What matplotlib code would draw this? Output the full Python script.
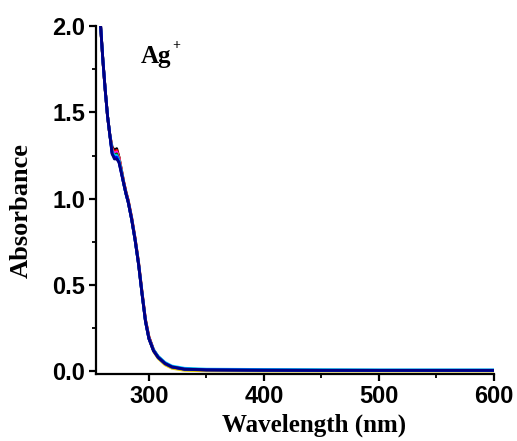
import matplotlib
matplotlib.use("Agg")
import matplotlib.pyplot as plt
from matplotlib.ticker import MultipleLocator

wavelength = [254, 256, 258, 260, 262, 264, 266, 268, 270, 272, 274, 276, 278, 280,
              282, 285, 288, 291, 294, 297, 300, 304, 308, 314, 320, 331, 350,
              400, 450, 500, 550, 600]

abs_black   = [2.60, 2.28, 2.00, 1.80, 1.63, 1.48, 1.37, 1.30, 1.28, 1.29, 1.24, 1.17, 1.10, 1.04,
               0.99, 0.89, 0.77, 0.63, 0.46, 0.30, 0.20, 0.125, 0.085, 0.048, 0.027, 0.014, 0.010,
               0.008, 0.007, 0.006, 0.006, 0.006]
abs_red     = [2.60, 2.28, 2.00, 1.80, 1.63, 1.48, 1.37, 1.29, 1.27, 1.28, 1.24, 1.17, 1.10, 1.04,
               0.99, 0.89, 0.77, 0.63, 0.46, 0.30, 0.20, 0.125, 0.085, 0.048, 0.027, 0.014, 0.010,
               0.008, 0.007, 0.006, 0.006, 0.006]
abs_yellow  = [2.60, 2.28, 2.00, 1.80, 1.63, 1.48, 1.37, 1.28, 1.26, 1.27, 1.23, 1.16, 1.09, 1.03,
               0.98, 0.88, 0.76, 0.62, 0.45, 0.29, 0.19, 0.115, 0.075, 0.038, 0.018, 0.006, 0.003,
               0.002, 0.002, 0.002, 0.002, 0.002]
abs_magenta = [2.60, 2.28, 2.00, 1.80, 1.63, 1.48, 1.37, 1.28, 1.26, 1.27, 1.23, 1.16, 1.09, 1.03,
               0.98, 0.88, 0.76, 0.62, 0.45, 0.29, 0.19, 0.120, 0.080, 0.045, 0.025, 0.012, 0.008,
               0.006, 0.005, 0.005, 0.005, 0.005]
abs_green   = [2.60, 2.28, 2.00, 1.80, 1.63, 1.48, 1.37, 1.27, 1.25, 1.26, 1.22, 1.16, 1.09, 1.03,
               0.98, 0.88, 0.76, 0.62, 0.45, 0.29, 0.19, 0.120, 0.080, 0.045, 0.025, 0.012, 0.008,
               0.006, 0.005, 0.005, 0.005, 0.005]
abs_cyan    = [2.60, 2.28, 2.00, 1.80, 1.63, 1.48, 1.37, 1.27, 1.25, 1.25, 1.22, 1.16, 1.09, 1.03,
               0.98, 0.88, 0.76, 0.62, 0.45, 0.29, 0.19, 0.125, 0.088, 0.052, 0.031, 0.018, 0.013,
               0.011, 0.010, 0.009, 0.009, 0.009]
abs_blue    = [2.60, 2.28, 2.00, 1.80, 1.63, 1.48, 1.37, 1.26, 1.24, 1.24, 1.21, 1.15, 1.09, 1.03,
               0.98, 0.88, 0.76, 0.62, 0.45, 0.29, 0.19, 0.120, 0.082, 0.046, 0.026, 0.013, 0.009,
               0.007, 0.006, 0.006, 0.006, 0.006]
abs_navy    = [2.60, 2.28, 2.00, 1.80, 1.63, 1.48, 1.37, 1.26, 1.23, 1.23, 1.21, 1.15, 1.09, 1.03,
               0.98, 0.88, 0.76, 0.62, 0.45, 0.29, 0.19, 0.120, 0.082, 0.046, 0.026, 0.013, 0.009,
               0.007, 0.006, 0.006, 0.006, 0.006]

series = [
    (abs_black, "black"),
    (abs_red, "red"),
    (abs_yellow, "#e0c800"),
    (abs_magenta, "magenta"),
    (abs_green, "#008000"),
    (abs_cyan, "#00c8ff"),
    (abs_blue, "blue"),
    (abs_navy, "#000080"),
]

x_ticks = [300, 400, 500, 600]
y_ticks = [0.0, 0.5, 1.0, 1.5, 2.0]

fig = plt.figure(figsize=(5.17, 4.41), dpi=100)
ax = fig.add_axes([0.1857, 0.152, 0.7698, 0.789])

for vals, col in series:
    ax.plot(wavelength, vals, color=col, lw=2.0, solid_joinstyle="round")

ax.set_xlim(254, 600)
ax.set_ylim(-0.015, 2.0)
ax.set_xticks(x_ticks)
ax.set_yticks(y_ticks)
ax.set_yticklabels([f"{v:.1f}" for v in y_ticks])
ax.xaxis.set_minor_locator(MultipleLocator(50))
ax.yaxis.set_minor_locator(MultipleLocator(0.25))

for s in ["top", "right"]:
    ax.spines[s].set_visible(False)
for s in ["left", "bottom"]:
    ax.spines[s].set_linewidth(1.6)

ax.tick_params(which="major", direction="out", length=5, width=1.6, pad=3)
ax.tick_params(which="minor", direction="out", length=3, width=1.3)
for lab in ax.get_xticklabels() + ax.get_yticklabels():
    lab.set_fontfamily("Liberation Sans")
    lab.set_fontweight("bold")
    lab.set_fontsize(17)

ax.set_xlabel("Wavelength (nm)", fontfamily="Liberation Serif", fontweight="bold", fontsize=18)
ax.xaxis.set_label_coords(0.548, -0.115)
ax.set_ylabel("Absorbance", fontfamily="Liberation Serif", fontweight="bold", fontsize=19)
ax.yaxis.set_label_coords(-0.158, 0.47)

ax.text(0.112, 0.894, "Ag", transform=ax.transAxes, fontfamily="Liberation Serif",
        fontweight="bold", fontsize=18)
ax.text(0.191, 0.935, "+", transform=ax.transAxes, fontfamily="Liberation Serif",
        fontweight="bold", fontsize=10)

fig.savefig("out.png", dpi=100)
